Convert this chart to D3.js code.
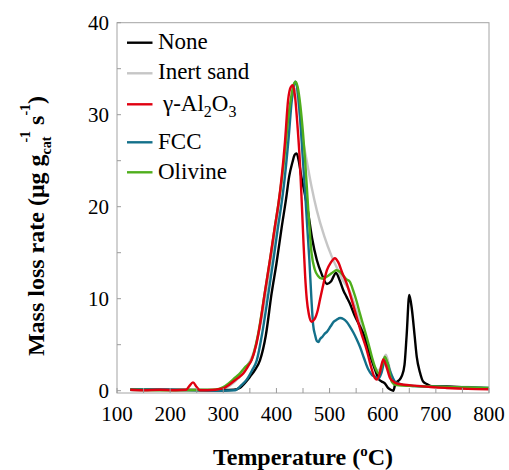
<!DOCTYPE html>
<html>
<head>
<meta charset="utf-8">
<script src="https://cdn.jsdelivr.net/npm/d3@7"></script>
</head>
<body style="margin:0">
<svg id="chart" width="509" height="470"></svg>
<script>
// Temperature (°C) and mass loss rate for each bed material
const noneT = [125,200,300,320,331,340,350,360,369,380,391,400,410,418,424,430,434,438,442,447,452,459,467,476,485,495,503,512,519,526,532,538,547,557,565,573,580,586,592,598,604,610,615,620,624,630,636,641,645,650,655,660,664,670,676,684,692,720,760,800];
const noneV = [0.1,0.1,0.05,0.1,0.3,0.8,1.5,2.3,3.3,6.0,10.6,13.8,17.8,20.8,23.3,24.8,25.6,25.8,25.0,23.2,21.8,19.6,16.6,14.2,12.7,11.6,11.9,12.8,12.0,10.9,10.2,9.5,8.2,7.0,6.0,4.4,3.2,2.2,1.3,1.0,0.8,0.3,0.1,0.0,0.8,1.1,1.6,2.8,6.0,10.4,8.8,6.0,3.7,2.0,1.0,0.7,0.5,0.45,0.35,0.25];

const sandT = [125,200,290,305,318,330,342,355,368,380,392,404,416,426,432,437,442,448,457,466,476,490,504,515,525,538,550,562,574,585,592,598,606,614,622,632,650,680,720,760,800];
const sandV = [0.05,0.05,0.05,0.3,0.8,1.5,2.5,3.8,6.6,10.4,15.0,20.0,25.3,31.0,32.4,32.8,31.0,28.0,25.0,22.2,19.6,16.8,14.6,13.2,12.0,10.8,8.8,6.5,4.2,2.6,2.2,2.8,3.9,2.2,1.0,0.7,0.55,0.5,0.45,0.4,0.3];

const aluminaT = [125,150,180,210,230,236,243,250,256,270,300,310,319,328,338,346,353,362,370,378,388,397,404,410,416,422,427,431,435,440,444,448,451,454,457,461,466,472,478,482,488,495,502,510,516,524,532,541,551,560,570,578,585,589,594,601,607,614,620,626,640,660,690,720,760,800];
const aluminaV = [0.1,0.05,0.1,0.05,0.1,0.5,0.9,0.4,0.05,0.05,0.25,0.6,1.0,1.4,1.9,2.6,3.3,5.0,7.5,10.6,14.3,17.8,20.4,23.3,27.0,31.6,33.0,33.2,32.0,28.5,25.0,20.0,16.0,12.5,10.0,8.3,7.5,7.8,8.8,9.9,11.5,13.1,13.9,14.4,14.0,12.8,11.7,10.0,8.0,6.2,4.4,2.6,1.4,1.2,1.8,3.4,2.6,1.35,1.0,0.8,0.65,0.55,0.4,0.3,0.2,0.15];

const fccT = [125,200,250,300,322,334,344,354,363,374,385,395,403,410,416,423,429,433,436,440,444,449,454,458,462,466,469,473,476,479,482,487,491,495,502,508,513,520,526,532,538,545,551,557,565,573,580,586,592,598,604,609,614,619,623,630,640,660,690,720,760,800];
const fccV = [0.15,0.1,0.05,0.0,0.05,0.6,1.2,2.2,3.3,6.5,10.6,14.5,17.8,20.5,23.3,27.5,31.6,33.2,33.6,32.5,30.0,25.8,21.5,17.8,14.2,9.8,7.2,6.0,5.4,5.3,5.6,5.9,6.2,6.4,7.0,7.5,7.7,7.9,7.8,7.5,7.0,6.3,5.6,4.8,3.5,2.3,1.7,1.5,1.3,2.0,3.3,3.0,2.1,1.4,1.0,0.8,0.6,0.5,0.45,0.4,0.35,0.3];

const olivineT = [125,200,280,292,300,310,320,330,340,353,365,378,390,397,404,410,416,422,428,432,436,440,445,450,454,460,466,472,478,485,492,500,507,513,520,526,532,538,545,551,557,565,573,580,586,592,598,604,610,617,626,640,660,690,720,760,800];
const olivineV = [0.1,0.05,0.1,0.2,0.4,0.8,1.3,1.8,2.5,3.3,6.0,10.6,15.0,17.8,20.4,23.0,26.0,29.5,32.0,33.2,33.6,33.0,31.0,28.0,25.0,19.6,15.0,13.2,12.5,12.2,12.3,12.6,12.9,13.1,12.9,12.5,12.1,11.85,10.8,9.7,8.4,6.8,5.15,3.6,2.5,1.9,2.6,3.7,2.8,1.0,0.6,0.55,0.5,0.45,0.4,0.35,0.3];

const seriesNames  = ["None", "Inert sand", "γ-Al2O3", "FCC", "Olivine"];
const seriesColors = ["#000000", "#c6c6c6", "#e00010", "#13708a", "#4fae1c"];
const xTicks = [100,150,200,250,300,350,400,450,500,550,600,650,700,750,800];
const xTickLabels = [100,200,300,400,500,600,700,800];
const yTicks = [0,5,10,15,20,25,30,35,40];
const yTickLabels = [0,10,20,30,40];

const series = [
  { name: seriesNames[0], color: seriesColors[0], T: noneT, V: noneV },
  { name: seriesNames[1], color: seriesColors[1], T: sandT, V: sandV },
  { name: seriesNames[2], color: seriesColors[2], T: aluminaT, V: aluminaV },
  { name: seriesNames[3], color: seriesColors[3], T: fccT, V: fccV },
  { name: seriesNames[4], color: seriesColors[4], T: olivineT, V: olivineV }
];

const serifFamily = "Liberation Serif";
const svg = d3.select("#chart");
const plotLeft = 117, plotRight = 489, plotTop = 22.7, plotBottom = 393;

const x = d3.scaleLinear().domain([100, 800]).range([plotLeft, plotRight]);
const y = d3.scaleLinear().domain([-0.25, 40]).range([plotBottom, plotTop]);

// Curves: sand, none, FCC, olivine, alumina on top
const line = d3.line()
  .x(d => x(d[0]))
  .y(d => y(d[1]))
  .curve(d3.curveMonotoneX);
[1, 0, 3, 4, 2].forEach(i => {
  const s = series[i];
  svg.append("path")
    .attr("d", line(s.T.map((t, k) => [t, s.V[k]])))
    .attr("fill", "none")
    .attr("stroke", s.color)
    .attr("stroke-width", 2.4)
    .attr("stroke-linejoin", "round");
});

// Plot frame
svg.append("rect")
  .attr("x", plotLeft).attr("y", plotTop)
  .attr("width", plotRight - plotLeft).attr("height", plotBottom - plotTop)
  .attr("fill", "none").attr("stroke", "#a4a4a4").attr("stroke-width", 1);

// Inward ticks placed with the scales
xTicks.forEach(v => {
  svg.append("line")
    .attr("x1", x(v)).attr("x2", x(v))
    .attr("y1", plotBottom).attr("y2", plotBottom - 5)
    .attr("stroke", "#9a9a9a");
});
yTicks.forEach(v => {
  svg.append("line")
    .attr("x1", plotLeft).attr("x2", plotLeft + 4)
    .attr("y1", y(v)).attr("y2", y(v))
    .attr("stroke", "#9a9a9a");
});

// Tick labels
xTickLabels.forEach(v => {
  svg.append("text")
    .attr("x", x(v)).attr("y", 421)
    .attr("text-anchor", "middle")
    .attr("font-family", serifFamily).attr("font-size", 21)
    .text(v);
});
yTickLabels.forEach(v => {
  svg.append("text")
    .attr("x", 109).attr("y", y(v) + 7)
    .attr("text-anchor", "end")
    .attr("font-family", serifFamily).attr("font-size", 21)
    .text(v);
});

// Legend
const legendLineY = [42.7, 73.3, 104.3, 142.3, 172.3];
const legendTextY = [48.5, 78.5, 110.5, 148.5, 178.5];
series.forEach((s, i) => {
  svg.append("line")
    .attr("x1", 127).attr("x2", 152.5)
    .attr("y1", legendLineY[i]).attr("y2", legendLineY[i])
    .attr("stroke", s.color).attr("stroke-width", 2.4);
  const t = svg.append("text")
    .attr("x", i === 2 ? 163 : 158)
    .attr("y", legendTextY[i])
    .attr("font-family", serifFamily)
    .attr("font-size", 23);
  if (i === 2) {
    t.append("tspan").text("γ-Al");
    t.append("tspan").attr("dy", 6).attr("font-size", 16).text("2");
    t.append("tspan").attr("dy", -6).text("O");
    t.append("tspan").attr("dy", 6).attr("font-size", 16).text("3");
  } else {
    t.text(s.name);
  }
});

// X axis title
const xt = svg.append("text")
  .attr("x", 303).attr("y", 465)
  .attr("text-anchor", "middle")
  .attr("font-family", serifFamily)
  .attr("font-size", 24).attr("font-weight", "bold");
xt.append("tspan").text("Temperature (");
xt.append("tspan").attr("dy", -9).attr("font-size", 15).text("o");
xt.append("tspan").attr("dy", 9).text("C)");

// Y axis title
const yt = svg.append("text")
  .attr("transform", "translate(44,226) rotate(-90)")
  .attr("text-anchor", "middle")
  .attr("font-family", serifFamily)
  .attr("font-size", 24).attr("font-weight", "bold");
yt.append("tspan").text("Mass loss rate (μg g");
yt.append("tspan").attr("dy", 7).attr("font-size", 14).text("cat");
yt.append("tspan").attr("dy", -21).attr("dx", -6).attr("font-size", 14).text("-1");
yt.append("tspan").attr("dy", 14).text(" s");
yt.append("tspan").attr("dy", -14).attr("font-size", 14).text("-1");
yt.append("tspan").attr("dy", 14).text(")");
</script>
</body>
</html>
